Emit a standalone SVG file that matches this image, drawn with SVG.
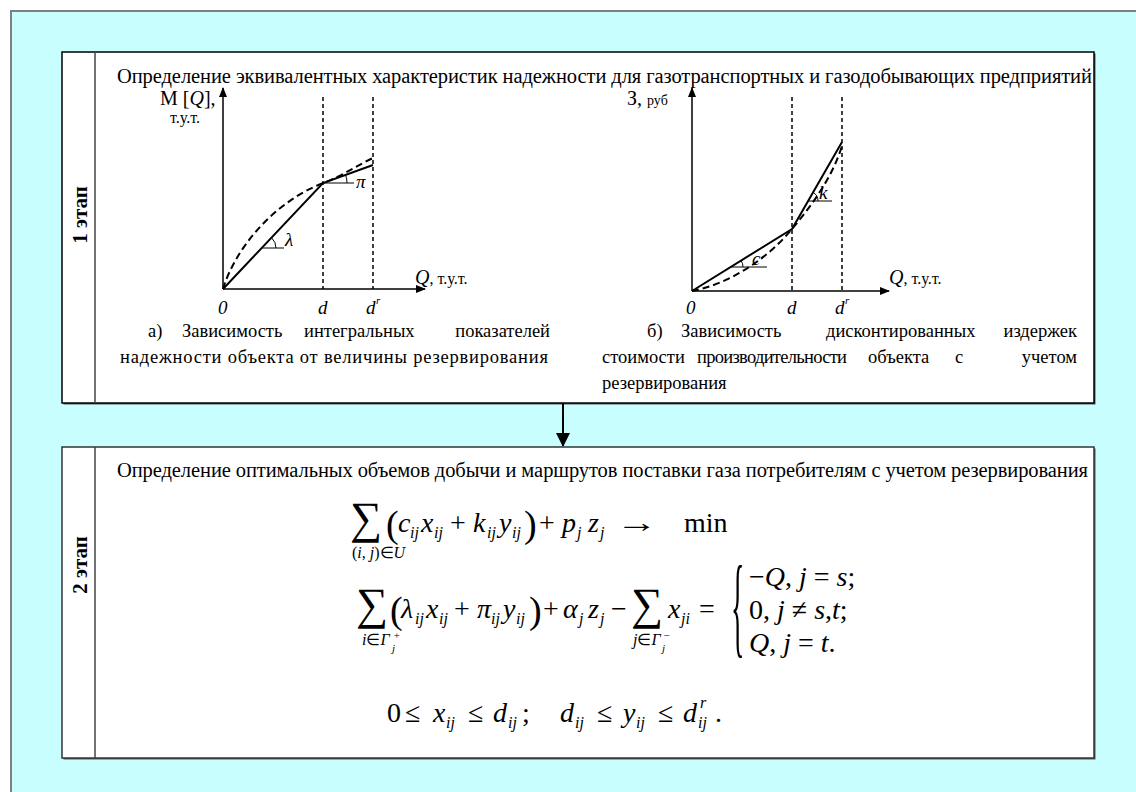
<svg xmlns="http://www.w3.org/2000/svg" width="1136" height="792" viewBox="0 0 1136 792">
<defs>
<style>
.t{font-family:"Liberation Serif","Times New Roman",serif;font-size:20.5px;fill:#000}
.c{font-family:"Liberation Serif","Times New Roman",serif;font-size:18.5px;fill:#000}
.lb{font-family:"Liberation Serif","Times New Roman",serif;font-size:20px;fill:#000}
.sm{font-family:"Liberation Serif","Times New Roman",serif;font-size:16px;fill:#000}
.it{font-family:"Liberation Serif","Times New Roman",serif;font-style:italic;font-size:19px;fill:#000}
.st{font-family:"Liberation Serif","Times New Roman",serif;font-weight:bold;font-size:21px;fill:#000}
.m{font-family:"Liberation Serif","Times New Roman",serif;font-style:italic;font-size:28px;fill:#000}
.mu{font-family:"Liberation Serif","Times New Roman",serif;font-size:28px;fill:#000}
.sb{font-family:"Liberation Serif","Times New Roman",serif;font-style:italic;font-size:16px;fill:#000}
.ss{font-family:"Liberation Serif","Times New Roman",serif;font-style:italic;font-size:11px;fill:#000}
.sum{font-family:"Liberation Serif","Times New Roman",serif;font-size:45px;fill:#000}
.par{font-family:"Liberation Serif","Times New Roman",serif;font-size:38px;fill:#000}
.ax{stroke:#000;stroke-width:1.5;fill:none}
.dv{stroke:#000;stroke-width:1.5;stroke-dasharray:4 3;fill:none}
.sl{stroke:#000;stroke-width:2;fill:none}
.dc{stroke:#000;stroke-width:2;stroke-dasharray:7 4;fill:none}
.th{stroke:#000;stroke-width:1;fill:none}
</style>
<marker id="ah" markerWidth="10" markerHeight="8" refX="9" refY="4" orient="auto" markerUnits="userSpaceOnUse">
<path d="M0,0 L10,4 L0,8 Z" fill="#000"/>
</marker>
<marker id="big" markerWidth="14" markerHeight="16" refX="13" refY="7" orient="auto" markerUnits="userSpaceOnUse">
<path d="M0,0 L14,7 L0,14 Z" fill="#000"/>
</marker>
</defs>
<rect x="0" y="0" width="1136" height="792" fill="#fff"/>
<rect x="11" y="11" width="1140" height="800" fill="#C8FEFE" stroke="#7f7f7f" stroke-width="2"/>

<g id="stage1">
<rect x="63.5" y="53.5" width="1032" height="351" fill="#555"/>
<rect x="62" y="52" width="1032" height="351" fill="#fff" stroke="#000" stroke-width="1.5"/>
<line x1="95" y1="52" x2="95" y2="403" stroke="#444" stroke-width="1.5"/>
<text class="st" transform="translate(87,215) rotate(-90)" text-anchor="middle">1 этап</text>
<text class="t" x="117" y="83" textLength="975">Определение эквивалентных характеристик надежности для газотранспортных и газодобывающих предприятий</text>

<!-- graph a -->
<line class="ax" x1="223" y1="289" x2="223" y2="88" marker-end="url(#ah)"/>
<line class="ax" x1="223" y1="289" x2="425" y2="289" marker-end="url(#ah)"/>
<line class="dv" x1="323" y1="97" x2="323" y2="289"/>
<line class="dv" x1="373" y1="97" x2="373" y2="289"/>
<path class="sl" d="M223,289 L323,183 L373,165"/>
<path class="dc" d="M223,289 C234,252 270,204 323,183 C342,176 356,166 373,158"/>
<path class="th" d="M262,248 L284,248 M276,248 A14,14 0 0,0 271.6,237.8"/>
<text class="it" x="285" y="246">λ</text>
<path class="th" d="M323,183 L354,183 M347,183 A24,24 0 0,0 345.6,174.9"/>
<text class="it" x="356" y="188">π</text>
<text class="lb" x="160" y="105">М [<tspan font-style="italic">Q</tspan>],</text>
<text class="sm" x="170" y="123">т.у.т.</text>
<text class="lb" x="415" y="284"><tspan font-style="italic">Q</tspan><tspan font-size="16">, т.у.т.</tspan></text>
<text class="it" x="218" y="314">0</text>
<text class="it" x="318" y="314">d</text>
<text class="it" x="366" y="314">d</text>
<text class="ss" x="376" y="304" font-size="12" font-style="normal">r</text>

<!-- graph b -->
<line class="ax" x1="692" y1="291" x2="692" y2="88" marker-end="url(#ah)"/>
<line class="ax" x1="692" y1="291" x2="889" y2="291" marker-end="url(#ah)"/>
<line class="dv" x1="792" y1="97" x2="792" y2="291"/>
<line class="dv" x1="842" y1="97" x2="842" y2="291"/>
<path class="sl" d="M692,291 L792,229 L842,142"/>
<path class="dc" d="M692,291 C725,285 765,262 792,229 C812,205 832,178 842,146"/>
<path class="th" d="M731,267 L767,267 M743,267 A12,12 0 0,0 741.2,260.7"/>
<text class="it" x="752" y="265">c</text>
<path class="th" d="M808,201 L832,201 M818,201 A10,10 0 0,0 813,192.3"/>
<text class="it" x="819" y="199">k</text>
<text class="lb" x="627" y="105">З, <tspan font-size="14">руб</tspan></text>
<text class="lb" x="889" y="284"><tspan font-style="italic">Q</tspan><tspan font-size="16">, т.у.т.</tspan></text>
<text class="it" x="686" y="314">0</text>
<text class="it" x="787" y="314">d</text>
<text class="it" x="835" y="314">d</text>
<text class="ss" x="845" y="304" font-size="12" font-style="normal">r</text>

<!-- captions -->
<text class="c" x="148" y="337">а)</text>
<text class="c" x="182" y="337">Зависимость</text>
<text class="c" x="304" y="337">интегральных</text>
<text class="c" x="550" y="337" text-anchor="end">показателей</text>
<text class="c" x="120" y="363" textLength="428">надежности объекта от величины резервирования</text>
<text class="c" x="647" y="337">б)</text>
<text class="c" x="681" y="337">Зависимость</text>
<text class="c" x="826" y="337">дисконтированных</text>
<text class="c" x="1077" y="337" text-anchor="end">издержек</text>
<text class="c" x="602" y="363">стоимости</text>
<text class="c" x="697" y="363" textLength="150">производительности</text>
<text class="c" x="868" y="363">объекта</text>
<text class="c" x="955" y="363">с</text>
<text class="c" x="1077" y="363" text-anchor="end">учетом</text>
<text class="c" x="602" y="389">резервирования</text>
</g>

<g id="connectors">
<line x1="563" y1="403" x2="563" y2="446" stroke="#000" stroke-width="2" marker-end="url(#big)"/>
</g>

<g id="stage2">
<rect x="63.5" y="448.5" width="1032" height="311" fill="#555"/>
<rect x="62" y="447" width="1032" height="311" fill="#fff" stroke="#333" stroke-width="1.5"/>
<line x1="95" y1="447" x2="95" y2="758" stroke="#444" stroke-width="1.5"/>
<text class="st" transform="translate(87,565) rotate(-90)" text-anchor="middle">2 этап</text>
<text class="t" x="117" y="477" textLength="971">Определение оптимальных объемов добычи и маршрутов поставки газа потребителям с учетом резервирования</text>

<!-- formula 1 -->
<text class="sum" x="350" y="533">∑</text>
<text class="par" x="386" y="537">(</text>
<text class="m" x="398" y="532">c</text><text class="sb" x="410" y="538">ij</text>
<text class="m" x="421" y="532">x</text><text class="sb" x="434" y="538">ij</text>
<text class="mu" x="450" y="532">+</text>
<text class="m" x="473" y="532">k</text><text class="sb" x="487" y="538">ij</text>
<text class="m" x="499" y="532">y</text><text class="sb" x="512" y="538">ij</text>
<text class="par" x="524" y="537">)</text>
<text class="mu" x="539" y="532">+</text>
<text class="m" x="562" y="532">p</text><text class="sb" x="577" y="538">j</text>
<text class="m" x="588" y="532">z</text><text class="sb" x="600" y="538">j</text>
<text class="mu" transform="translate(616,532) scale(1.5,1)">→</text>
<text class="mu" x="684" y="532">min</text>
<text class="sb" x="352" y="558" font-size="15"><tspan font-style="normal">(</tspan>i<tspan font-style="normal">, </tspan>j<tspan font-style="normal">)∈</tspan>U</text>

<!-- formula 2 -->
<text class="sum" x="356" y="619">∑</text>
<text class="par" x="390" y="623">(</text>
<text class="m" x="401" y="618">λ</text><text class="sb" x="415" y="624">ij</text>
<text class="m" x="426" y="618">x</text><text class="sb" x="439" y="624">ij</text>
<text class="mu" x="454" y="618">+</text>
<text class="m" x="477" y="618">π</text><text class="sb" x="491" y="624">ij</text>
<text class="m" x="503" y="618">y</text><text class="sb" x="516" y="624">ij</text>
<text class="par" x="529" y="623">)</text>
<text class="mu" x="543" y="618">+</text>
<text class="m" x="563" y="618">α</text><text class="sb" x="579" y="624">j</text>
<text class="m" x="588" y="618">z</text><text class="sb" x="600" y="624">j</text>
<text class="mu" x="611" y="618">−</text>
<text class="sum" x="631" y="619">∑</text>
<text class="m" x="668" y="618">x</text><text class="sb" x="681" y="624">ji</text>
<text class="mu" x="699" y="618">=</text>
<text class="mu" transform="translate(731,643) scale(1,4)" font-size="28">{</text>
<text class="sb" x="362" y="645" font-size="14">i<tspan font-style="normal">∈</tspan>Γ</text>
<text class="ss" x="392" y="652">j</text>
<text class="ss" x="393" y="639" font-style="normal">+</text>
<text class="sb" x="633" y="645" font-size="14">j<tspan font-style="normal">∈</tspan>Γ</text>
<text class="ss" x="662" y="652">j</text>
<text class="ss" x="663" y="639" font-style="normal">−</text>
<text class="m" x="749" y="586"><tspan font-style="normal">−</tspan>Q<tspan font-style="normal">, </tspan>j<tspan font-style="normal"> = </tspan>s<tspan font-style="normal">;</tspan></text>
<text class="m" x="749" y="619"><tspan font-style="normal">0, </tspan>j<tspan font-style="normal"> ≠ </tspan>s<tspan font-style="normal">,</tspan>t<tspan font-style="normal">;</tspan></text>
<text class="m" x="749" y="652">Q<tspan font-style="normal">, </tspan>j<tspan font-style="normal"> = </tspan>t<tspan font-style="normal">.</tspan></text>

<!-- formula 3 -->
<text class="mu" x="387" y="722">0</text>
<text class="mu" x="405" y="722">≤</text>
<text class="m" x="433" y="722">x</text><text class="sb" x="446" y="728">ij</text>
<text class="mu" x="468" y="722">≤</text>
<text class="m" x="493" y="722">d</text><text class="sb" x="508" y="728">ij</text>
<text class="mu" x="522" y="722">;</text>
<text class="m" x="560" y="722">d</text><text class="sb" x="575" y="728">ij</text>
<text class="mu" x="597" y="722">≤</text>
<text class="m" x="623" y="722">y</text><text class="sb" x="636" y="728">ij</text>
<text class="mu" x="658" y="722">≤</text>
<text class="m" x="683" y="722">d</text><text class="sb" x="698" y="728">ij</text>
<text class="sb" x="700" y="708">r</text>
<text class="mu" x="715" y="722">.</text>
</g>
</svg>
